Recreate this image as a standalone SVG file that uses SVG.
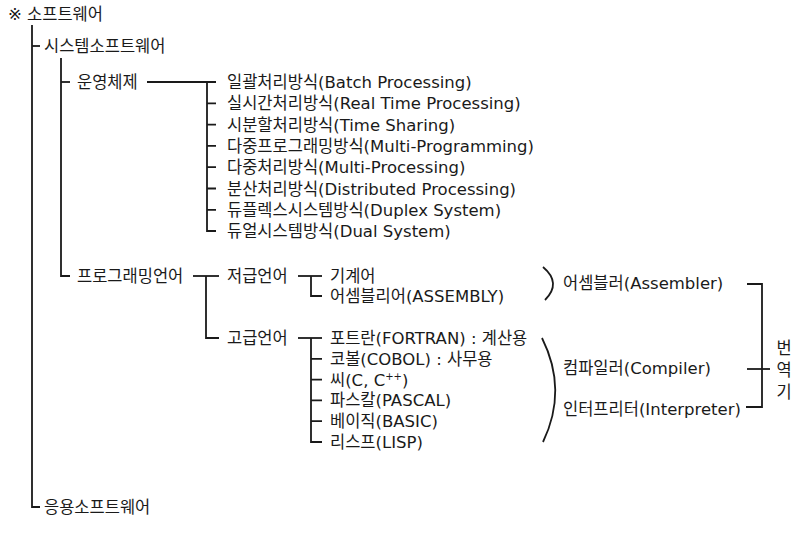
<svg xmlns="http://www.w3.org/2000/svg" width="800" height="533" viewBox="0 0 800 533">
<style>
text{font-family:"DejaVu Sans","Noto Sans CJK KR",sans-serif;font-size:16.5px;fill:#1a1a1a}
.c path{stroke:#1a1a1a;stroke-width:1.8;fill:none}
</style>
<rect width="800" height="533" fill="#fff"/>
<g class="c" id="connectors">
<path d="M32,25V507H40"/>
<path d="M32,46H40"/>
<path d="M61,58V276H70"/>
<path d="M61,82H70"/>
<path d="M147,82H216"/>
<path d="M207,82V231H216"/>
<path d="M207,103.3H216M207,124.6H216M207,145.9H216M207,167.2H216M207,188.5H216M207,209.8H216"/>
<path d="M193,276H219"/>
<path d="M206,276V338H219"/>
<path d="M298,276H322"/>
<path d="M311,276V296H322"/>
<path d="M298,338H322"/>
<path d="M311,338V442H322"/>
<path d="M311,358.8H322M311,379.6H322M311,400.4H322M311,421.2H322"/>
<path d="M543,267Q562,283 545,300"/>
<path d="M542,338Q568,390 543,442"/>
<path d="M747,284H762V407H746"/>
<path d="M747,369H770"/>
</g>
<g id="root"><text x="8" y="20">※ 소프트웨어</text></g>
<g id="system"><text x="44" y="52">시스템소프트웨어</text></g>
<g id="os"><text x="77" y="88">운영체제</text></g>
<g id="os-items">
<text x="227" y="88">일괄처리방식(Batch Processing)</text>
<text x="227" y="109.3">실시간처리방식(Real Time Processing)</text>
<text x="227" y="130.6">시분할처리방식(Time Sharing)</text>
<text x="227" y="151.9">다중프로그래밍방식(Multi-Programming)</text>
<text x="227" y="173.2">다중처리방식(Multi-Processing)</text>
<text x="227" y="194.5">분산처리방식(Distributed Processing)</text>
<text x="227" y="215.8">듀플렉스시스템방식(Duplex System)</text>
<text x="227" y="237">듀얼시스템방식(Dual System)</text>
</g>
<g id="proglang"><text x="77" y="282">프로그래밍언어</text></g>
<g id="low"><text x="227" y="282">저급언어</text></g>
<g id="low-items">
<text x="330" y="282">기계어</text>
<text x="330" y="302">어셈블리어(ASSEMBLY)</text>
</g>
<g id="high"><text x="227" y="344">고급언어</text></g>
<g id="high-items">
<text x="330" y="344">포트란(FORTRAN) : 계산용</text>
<text x="330" y="364.8">코볼(COBOL) : 사무용</text>
<text x="330" y="385.6">씨(C, C<tspan font-size="10" dy="-6">++</tspan><tspan dy="6">)</tspan></text>
<text x="330" y="406.4">파스칼(PASCAL)</text>
<text x="330" y="427.2">베이직(BASIC)</text>
<text x="330" y="448">리스프(LISP)</text>
</g>
<g id="assembler"><text x="563" y="289">어셈블러(Assembler)</text></g>
<g id="compiler"><text x="563" y="374">컴파일러(Compiler)</text></g>
<g id="interpreter"><text x="563" y="415">인터프리터(Interpreter)</text></g>
<g id="translator">
<text x="784" y="354" text-anchor="middle">번</text>
<text x="784" y="376" text-anchor="middle">역</text>
<text x="784" y="398" text-anchor="middle">기</text>
</g>
<g id="app"><text x="44" y="513">응용소프트웨어</text></g>
</svg>
